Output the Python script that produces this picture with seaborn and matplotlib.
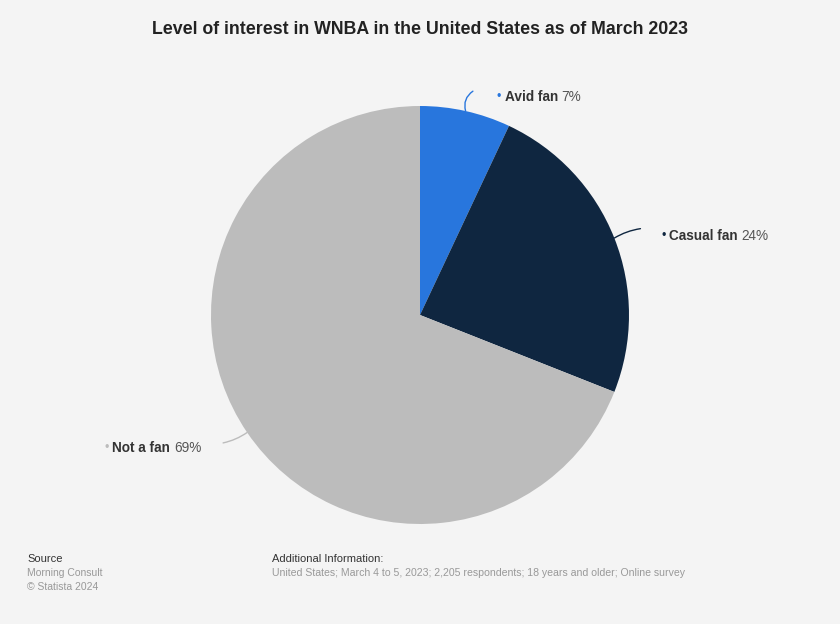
import numpy as np
import matplotlib
matplotlib.use("Agg")
import matplotlib.pyplot as plt
import seaborn as sns

# data
labels = ["Avid fan", "Casual fan", "Not a fan"]
shares = [7, 24, 69]
colors = ["#2876dd", "#0f2640", "#bcbcbc"]

title = "Level of interest in WNBA in the United States as of March 2023"
source_lines = ["Morning Consult", "\u00a9 Statista 2024"]
info_line = "United States; March 4 to 5, 2023; 2,205 respondents; 18 years and older; Online survey"

sns.set_theme(style="white")
plt.rcParams["font.family"] = ["Liberation Sans", "DejaVu Sans"]

W, H = 840, 624
bg = "#f4f4f4"
fig = plt.figure(figsize=(W / 100, H / 100), dpi=100, facecolor=bg)

cx, cy, r = 420, 315, 209
ax = fig.add_axes([(cx - r) / W, (H - cy - r) / H, 2 * r / W, 2 * r / H])
ax.set_facecolor(bg)
wedges, _ = ax.pie(shares, colors=colors, startangle=90, counterclock=False,
                   radius=1, wedgeprops=dict(linewidth=0))
ax.set_xlim(-1, 1)
ax.set_ylim(-1, 1)
ax.set_aspect("equal")
ax.axis("off")

# connector end offsets (data units, relative to wedge edge) and label anchors
ends = [(0.035, 0.095), (0.125, 0.045), (-0.115, -0.05)]
rads = [0.35, 0.1, 0.1]
gaps = [(0.115, -0.03), (0.10, -0.035), (-0.105, -0.025)]
for w, lab, val, col, (dx, dy), rad, (gx, gy) in zip(wedges, labels, shares, colors, ends, rads, gaps):
    ang = np.deg2rad((w.theta1 + w.theta2) / 2)
    sx, sy = np.cos(ang), np.sin(ang)
    ex, ey = sx + dx, sy + dy
    ax.annotate("", xy=(sx, sy), xytext=(ex, ey),
                arrowprops=dict(arrowstyle="-", color=col, lw=1,
                                connectionstyle=f"arc3,rad={rad}",
                                shrinkA=0, shrinkB=0),
                annotation_clip=False)
    lx, ly = ex + gx, ey + gy
    if gx > 0:
        b = ax.text(lx, ly, "\u2022", color=col, fontsize=9, ha="left", va="center", clip_on=False)
        t = ax.annotate(lab, xy=(1, 0.5), xycoords=b, xytext=(2.5, 0), textcoords="offset points",
                        fontsize=9.8, fontweight="bold", color="#333333", ha="left", va="center")
        ax.annotate(f"{val}%", xy=(1, 0.5), xycoords=t, xytext=(2.5, 0), textcoords="offset points",
                    fontsize=9.8, color="#555555", ha="left", va="center")
    else:
        p = ax.text(lx, ly, f"{val}%", color="#555555", fontsize=9.8, ha="right", va="center", clip_on=False)
        t = ax.annotate(lab, xy=(0, 0.5), xycoords=p, xytext=(-2.5, 0), textcoords="offset points",
                        fontsize=9.8, fontweight="bold", color="#333333", ha="right", va="center")
        ax.annotate("\u2022", xy=(0, 0.5), xycoords=t, xytext=(-2.5, 0), textcoords="offset points",
                    fontsize=9, color=col, ha="right", va="center")

fig.text(0.5, 1 - 29 / H, title, ha="center", va="center", fontsize=12.8,
         fontweight="bold", color="#222222")

fig.text(27 / W, 1 - 559 / H, "Source", fontsize=8, color="#333333", va="center")
for i, s in enumerate(source_lines):
    fig.text(27 / W, 1 - (573 + 13.5 * i) / H, s, fontsize=7.5, color="#999999", va="center")
fig.text(272 / W, 1 - 559 / H, "Additional Information:", fontsize=8, color="#333333", va="center")
fig.text(272 / W, 1 - 573 / H, info_line, fontsize=7.6, color="#999999", va="center")

fig.savefig("out.png", dpi=100, facecolor=bg)
